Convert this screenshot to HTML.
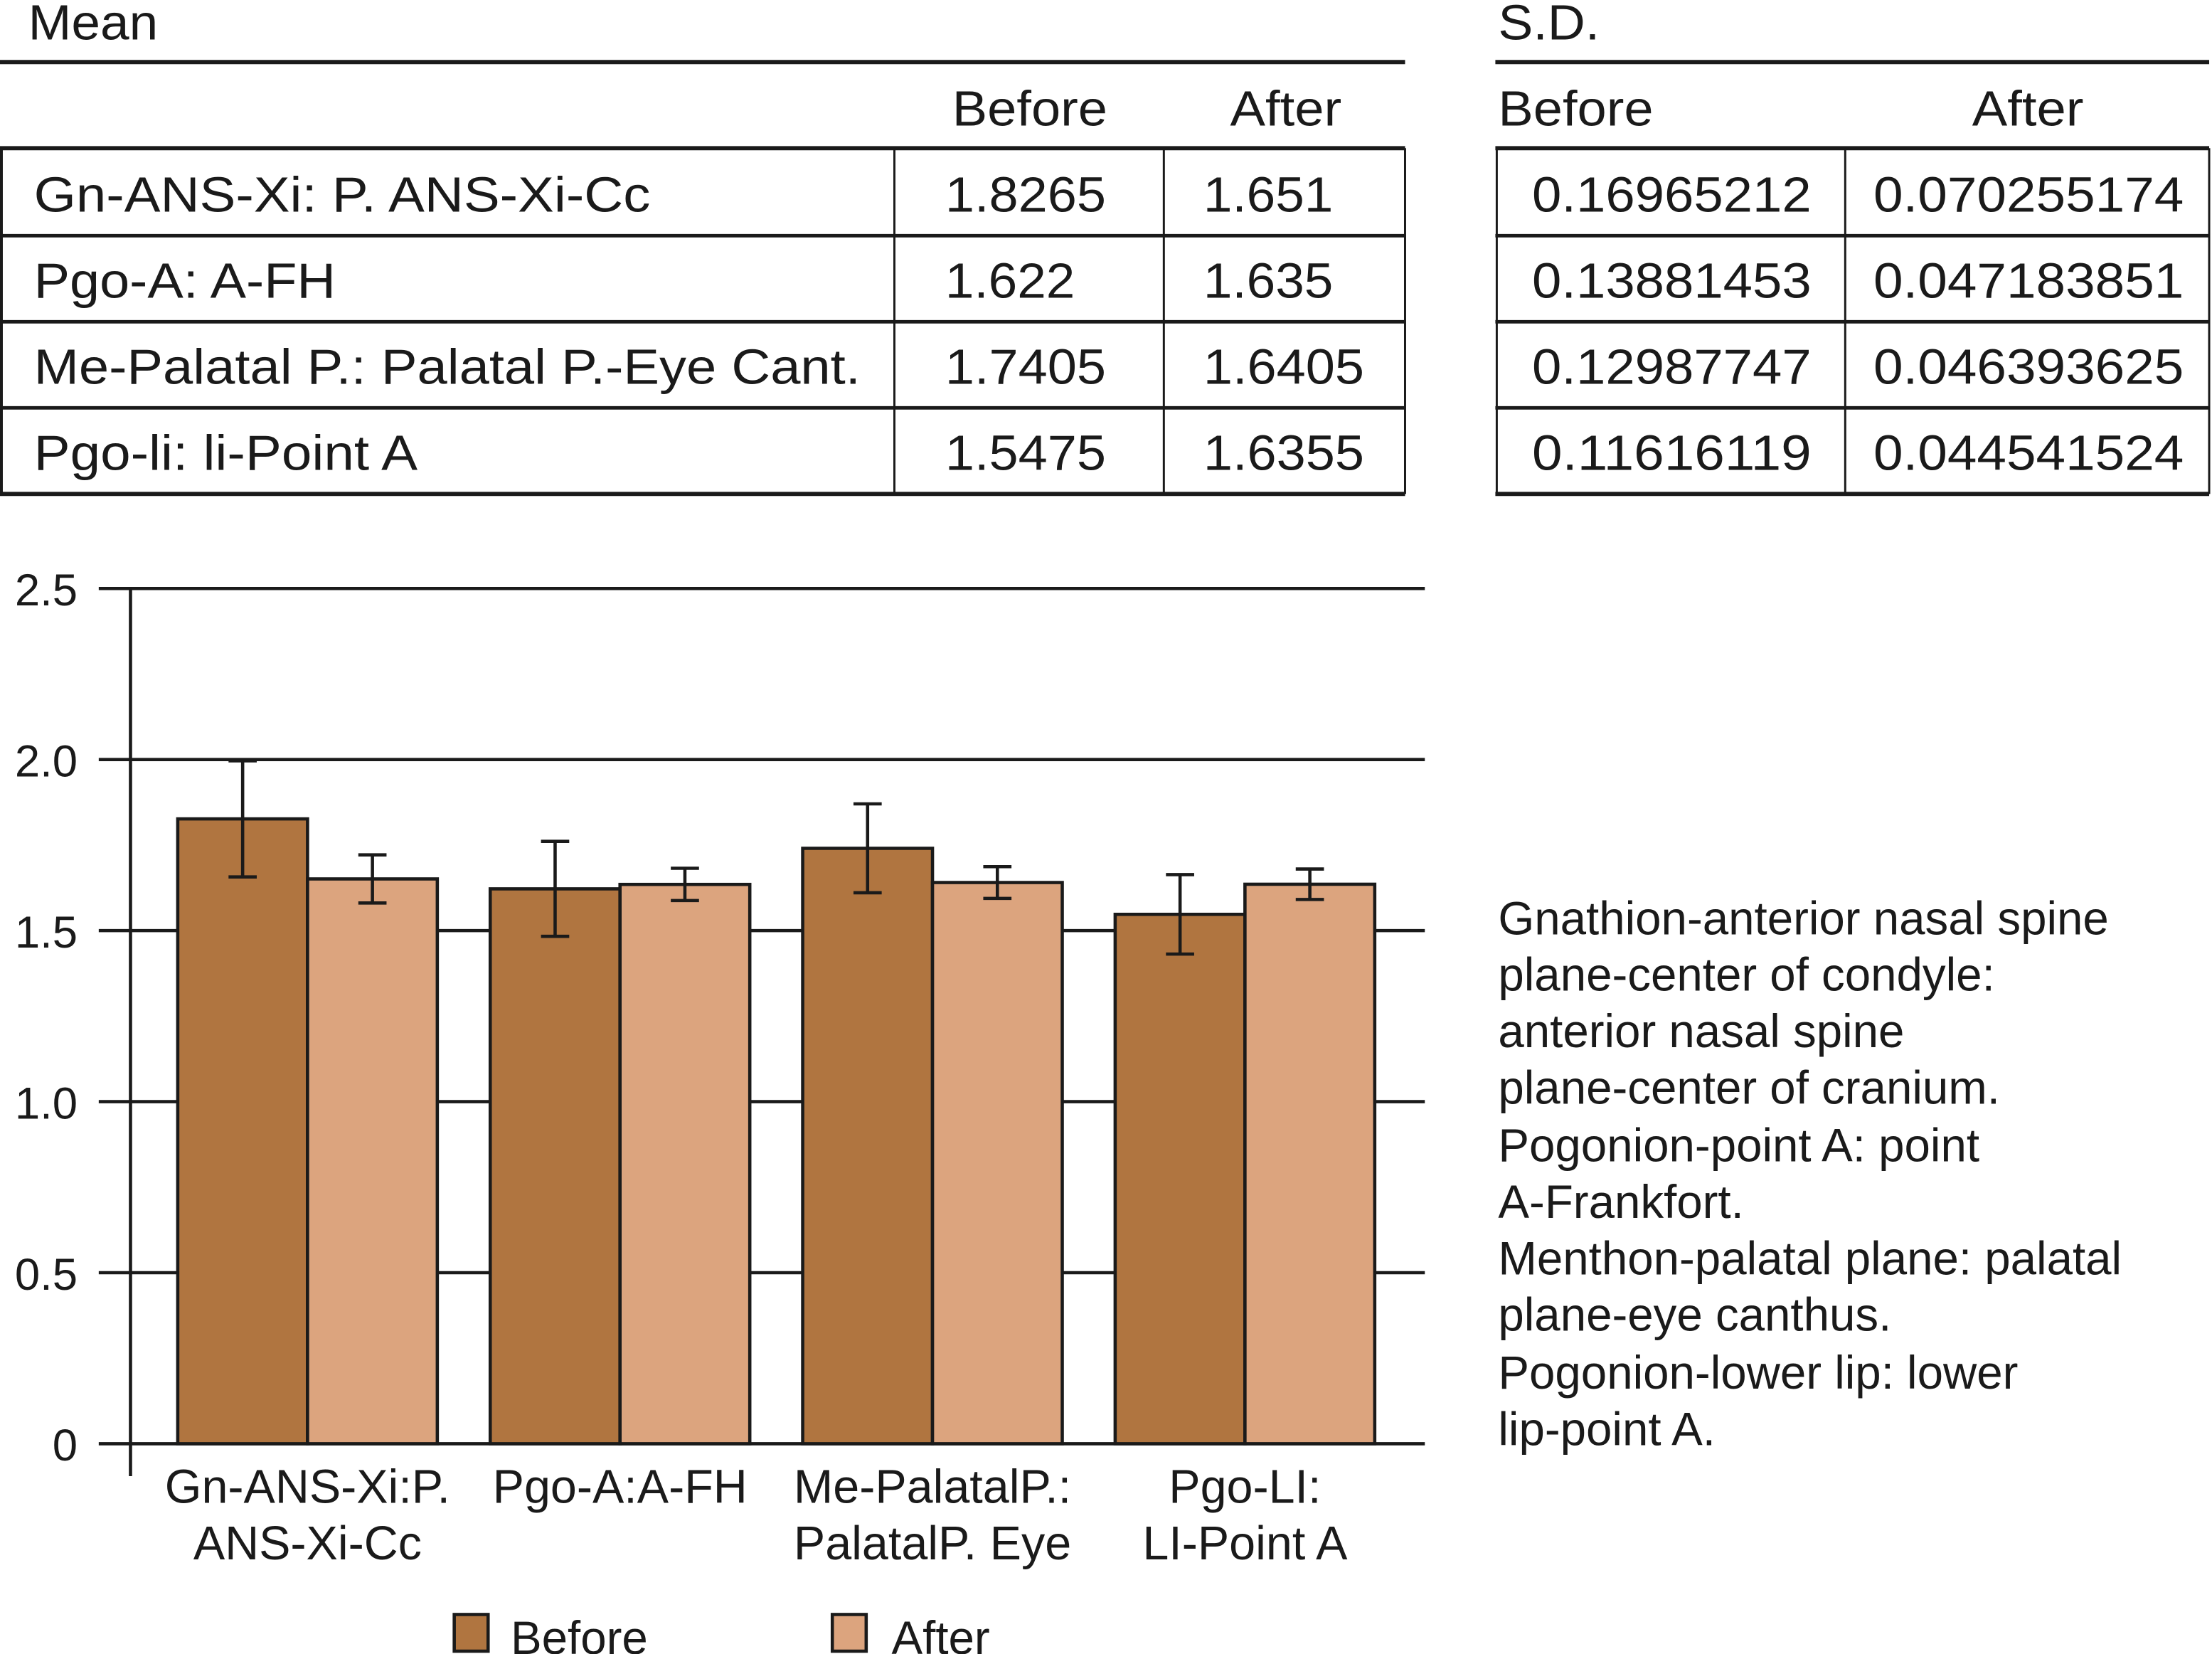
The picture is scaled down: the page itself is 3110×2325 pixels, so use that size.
<!DOCTYPE html>
<html><head><meta charset="utf-8"><style>
html,body{margin:0;padding:0;background:#fff;}
svg{display:block;}
text{font-family:"Liberation Sans",Arial,sans-serif;fill:#1a1a1a;}
</style></head><body>
<svg id="fig" width="3110" height="2325" viewBox="0 0 1568 1172" preserveAspectRatio="none" xmlns="http://www.w3.org/2000/svg">
<g stroke="#1a1a1a" fill="none">
  <line x1="0" y1="44" x2="996" y2="44" stroke-width="3"/>
  <line x1="0" y1="105" x2="996" y2="105" stroke-width="3"/>
  <line x1="0" y1="167" x2="996" y2="167" stroke-width="2.5"/>
  <line x1="0" y1="228" x2="996" y2="228" stroke-width="2.5"/>
  <line x1="0" y1="289" x2="996" y2="289" stroke-width="2.5"/>
  <line x1="0" y1="350" x2="996" y2="350" stroke-width="3"/>
  <line x1="1" y1="105" x2="1" y2="350" stroke-width="2"/>
  <line x1="634" y1="105" x2="634" y2="350" stroke-width="1.5"/>
  <line x1="825" y1="105" x2="825" y2="350" stroke-width="1.5"/>
  <line x1="996" y1="105" x2="996" y2="350" stroke-width="1.5"/>
</g>
<g stroke="#1a1a1a" fill="none">
  <line x1="1060" y1="44" x2="1566" y2="44" stroke-width="3"/>
  <line x1="1060" y1="105" x2="1566" y2="105" stroke-width="3"/>
  <line x1="1060" y1="167" x2="1566" y2="167" stroke-width="2.5"/>
  <line x1="1060" y1="228" x2="1566" y2="228" stroke-width="2.5"/>
  <line x1="1060" y1="289" x2="1566" y2="289" stroke-width="2.5"/>
  <line x1="1060" y1="350" x2="1566" y2="350" stroke-width="3"/>
  <line x1="1061" y1="105" x2="1061" y2="350" stroke-width="1.5"/>
  <line x1="1308" y1="105" x2="1308" y2="350" stroke-width="1.5"/>
  <line x1="1566" y1="105" x2="1566" y2="350" stroke-width="1.5"/>
</g>
<g font-size="35">
  <text x="20" y="28" textLength="92" lengthAdjust="spacingAndGlyphs">Mean</text>
  <text x="1062" y="28" textLength="72" lengthAdjust="spacingAndGlyphs">S.D.</text>
  <text x="675" y="89" textLength="110" lengthAdjust="spacingAndGlyphs">Before</text>
  <text x="872" y="89" textLength="79" lengthAdjust="spacingAndGlyphs">After</text>
  <text x="1062" y="89" textLength="110" lengthAdjust="spacingAndGlyphs">Before</text>
  <text x="1398" y="89" textLength="79" lengthAdjust="spacingAndGlyphs">After</text>
  <text x="24" y="150" textLength="437" lengthAdjust="spacingAndGlyphs">Gn-ANS-Xi: P. ANS-Xi-Cc</text>
  <text x="24" y="211" textLength="214" lengthAdjust="spacingAndGlyphs">Pgo-A: A-FH</text>
  <text x="24" y="272" textLength="586" lengthAdjust="spacingAndGlyphs">Me-Palatal P.: Palatal P.-Eye Cant.</text>
  <text x="24" y="333" textLength="272" lengthAdjust="spacingAndGlyphs">Pgo-li: li-Point A</text>
  <text x="670" y="150" textLength="114" lengthAdjust="spacingAndGlyphs">1.8265</text>
  <text x="853" y="150" textLength="92" lengthAdjust="spacingAndGlyphs">1.651</text>
  <text x="670" y="211" textLength="92" lengthAdjust="spacingAndGlyphs">1.622</text>
  <text x="853" y="211" textLength="92" lengthAdjust="spacingAndGlyphs">1.635</text>
  <text x="670" y="272" textLength="114" lengthAdjust="spacingAndGlyphs">1.7405</text>
  <text x="853" y="272" textLength="114" lengthAdjust="spacingAndGlyphs">1.6405</text>
  <text x="670" y="333" textLength="114" lengthAdjust="spacingAndGlyphs">1.5475</text>
  <text x="853" y="333" textLength="114" lengthAdjust="spacingAndGlyphs">1.6355</text>
  <text x="1086" y="150" textLength="198" lengthAdjust="spacingAndGlyphs">0.16965212</text>
  <text x="1328" y="150" textLength="220" lengthAdjust="spacingAndGlyphs">0.070255174</text>
  <text x="1086" y="211" textLength="198" lengthAdjust="spacingAndGlyphs">0.13881453</text>
  <text x="1328" y="211" textLength="220" lengthAdjust="spacingAndGlyphs">0.047183851</text>
  <text x="1086" y="272" textLength="198" lengthAdjust="spacingAndGlyphs">0.12987747</text>
  <text x="1328" y="272" textLength="220" lengthAdjust="spacingAndGlyphs">0.046393625</text>
  <text x="1086" y="333" textLength="198" lengthAdjust="spacingAndGlyphs">0.11616119</text>
  <text x="1328" y="333" textLength="220" lengthAdjust="spacingAndGlyphs">0.044541524</text>
</g>
<g id="chart"></g>
<g>
  <rect x="322" y="1144" width="24" height="26" fill="#b07540" stroke="#1a1a1a" stroke-width="2.3"/>
  <text x="362" y="1172" font-size="33">Before</text>
  <rect x="590" y="1144" width="24" height="26" fill="#dca47e" stroke="#1a1a1a" stroke-width="2.3"/>
  <text x="632" y="1172" font-size="33">After</text>
</g>
<g font-size="33">
  <text x="1062" y="662">Gnathion-anterior nasal spine</text>
  <text x="1062" y="702">plane-center of condyle:</text>
  <text x="1062" y="742">anterior nasal spine</text>
  <text x="1062" y="782">plane-center of cranium.</text>
  <text x="1062" y="823">Pogonion-point A: point</text>
  <text x="1062" y="863">A-Frankfort.</text>
  <text x="1062" y="903">Menthon-palatal plane: palatal</text>
  <text x="1062" y="943">plane-eye canthus.</text>
  <text x="1062" y="984">Pogonion-lower lip: lower</text>
  <text x="1062" y="1024">lip-point A.</text>
</g>
</svg>
<script>
const categories = ["Gn-ANS-Xi:P.|ANS-Xi-Cc", "Pgo-A:A-FH", "Me-PalatalP.:|PalatalP. Eye", "Pgo-LI:|LI-Point A"];
const beforeValues = [1.8265, 1.622, 1.7405, 1.5475];
const afterValues = [1.651, 1.635, 1.6405, 1.6355];
const beforeSD = [0.16965212, 0.13881453, 0.12987747, 0.11616119];
const afterSD = [0.070255174, 0.047183851, 0.046393625, 0.044541524];
const yTicks = [0, 0.5, 1.0, 1.5, 2.0, 2.5];
const yTickLabels = ["0", "0.5", "1.0", "1.5", "2.0", "2.5"];

const NS = "http://www.w3.org/2000/svg";
const g = document.getElementById("chart");
const y0 = 1023, yTop = 417, vMax = 2.5;
function yScale(v){ return y0 - (v / vMax) * (y0 - yTop); }
const groupStart = 126, groupStep = 221.5, barW = 92;
function xScale(i){ return groupStart + i * groupStep; }
function mk(tag, attrs){ const e = document.createElementNS(NS, tag); for (const k in attrs) e.setAttribute(k, attrs[k]); g.appendChild(e); return e; }

yTicks.forEach((t, i) => {
  const line = mk("line", {x1: 70, x2: 1010, y1: yScale(t), y2: yScale(t), stroke: "#1a1a1a", "stroke-width": 2.3});
  
  
  const lab = mk("text", {x: 55, y: yScale(t) + 12, "text-anchor": "end", "font-size": 32});
  lab.textContent = yTickLabels[i];
  
  
});
const axis = mk("line", {x1: 92.5, x2: 92.5, y1: yTop, y2: 1046, stroke: "#1a1a1a", "stroke-width": 2.3});



function errBar(cx, v, sd){
  const top = yScale(v + sd), bot = yScale(v - sd);
  const p = mk("path", {d: `M${cx},${top}V${bot}M${cx-10},${top}H${cx+10}M${cx-10},${bot}H${cx+10}`, stroke: "#1a1a1a", "stroke-width": 2.3, fill: "none"});
  
  
}
categories.forEach((c, i) => {
  const x = xScale(i);
  const b = mk("rect", {x: x, y: yScale(beforeValues[i]), width: barW, height: y0 - yScale(beforeValues[i]), fill: "#b07540", stroke: "#1a1a1a", "stroke-width": 2.3});
  
  
  const a = mk("rect", {x: x + barW, y: yScale(afterValues[i]), width: barW, height: y0 - yScale(afterValues[i]), fill: "#dca47e", stroke: "#1a1a1a", "stroke-width": 2.3});
  
  
  errBar(x + barW / 2, beforeValues[i], beforeSD[i]);
  errBar(x + barW * 1.5, afterValues[i], afterSD[i]);
  c.split("|").forEach((ln, j) => {
    const t = mk("text", {x: x + barW, y: 1065 + j * 40, "text-anchor": "middle", "font-size": 33.5});
    t.textContent = ln;
    
    
  });
});
</script>
</body></html>
